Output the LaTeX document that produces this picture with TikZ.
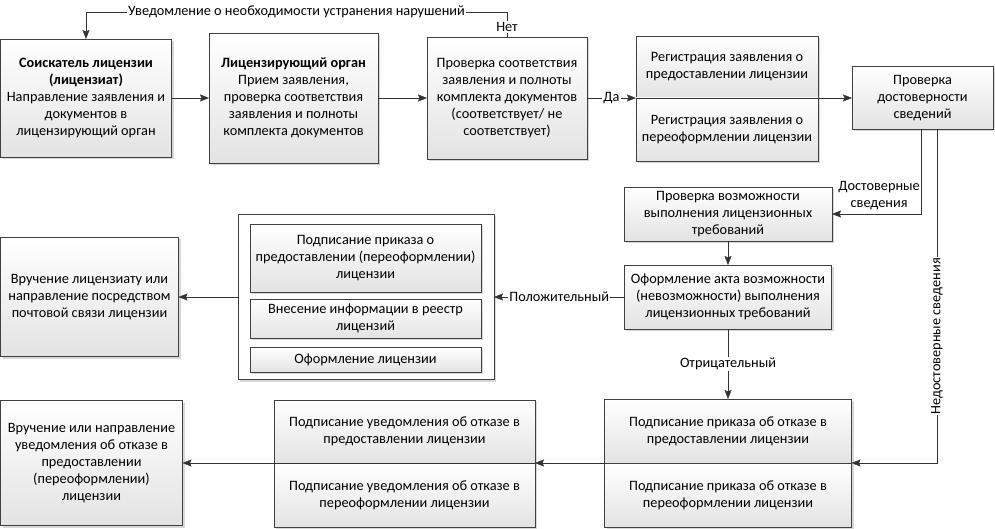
\documentclass[tikz,border=0pt]{standalone}
\usepackage{fontspec}
\setmainfont{Carlito}
\usetikzlibrary{positioning,arrows.meta,shadows}

\begin{document}
\begin{tikzpicture}[x=1pt, y=-1pt,
  txt/.style={font=\fontsize{14.3}{17}\selectfont},
  box/.style={txt, draw=black!75, rectangle, align=center, inner sep=2pt, outer sep=0pt,
    top color=white, bottom color=black!11,
    drop shadow={shadow xshift=2pt, shadow yshift=-2pt, fill=black!30, opacity=0.5}},
  frame/.style={draw=black!75, rectangle, fill=white, outer sep=0pt,
    drop shadow={shadow xshift=2pt, shadow yshift=-2pt, fill=black!30, opacity=0.5}},
  lbl/.style={txt, fill=white, inner sep=1pt},
  arr/.style={draw=black!80, -{Stealth[length=9pt, width=7pt, inset=1.5pt]}}]

  \useasboundingbox (0,0) rectangle (995,529);

  \node [box, minimum width=171pt, minimum height=118pt] (A) at (86,98)
    {\textbf{Соискатель лицензии}\\\textbf{(лицензиат)}\\Направление заявления и\\документов в\\лицензирующий орган};
  \node [box, minimum width=169pt, minimum height=130pt] (B) at (293.5,98)
    {\textbf{Лицензирующий орган}\\Прием заявления,\\проверка соответствия\\заявления и полноты\\комплекта документов};
  \node [box, minimum width=160pt, minimum height=122pt] (C) at (507,98)
    {Проверка соответствия\\заявления и полноты\\комплекта документов\\(соответствует/ не\\соответствует)};
  \node [box, minimum width=182pt, minimum height=62pt] (D1) at (727,67)
    {Регистрация заявления о\\предоставлении лицензии};
  \node [box, minimum width=182pt, minimum height=63pt] (D2) at (727,129.5)
    {Регистрация заявления о\\переоформлении лицензии};
  \node [box, minimum width=141pt, minimum height=63pt] (E) at (922.5,98)
    {Проверка\\достоверности\\сведений};

  \node [box, minimum width=208pt, minimum height=54pt] (F) at (728,214)
    {Проверка возможности\\выполнения лицензионных\\требований};
  \node [box, minimum width=207pt, minimum height=64pt] (G) at (728,297)
    {Оформление акта возможности\\(невозможности) выполнения\\лицензионных требований};
  \node [box, minimum width=247pt, minimum height=64pt] (H1) at (728,431)
    {Подписание приказа об отказе в\\предоставлении лицензии};
  \node [box, minimum width=247pt, minimum height=64pt] (H2) at (728,495)
    {Подписание приказа об отказе в\\переоформлении лицензии};

  \node [frame, minimum width=256pt, minimum height=165pt] (O) at (366,297) {};
  \node [box, minimum width=231pt, minimum height=68pt] (P1) at (365.5,258)
    {Подписание приказа о\\предоставлении (переоформлении)\\лицензии};
  \node [box, minimum width=231pt, minimum height=39pt] (P2) at (365.5,318.5)
    {Внесение информации в реестр\\лицензий};
  \node [box, minimum width=231pt, minimum height=25pt] (P3) at (365.5,359.5)
    {Оформление лицензии};

  \node [box, minimum width=178pt, minimum height=119pt] (I) at (89.5,297)
    {Вручение лицензиату или\\направление посредством\\почтовой связи лицензии};
  \node [box, minimum width=261pt, minimum height=63pt] (J1) at (404.5,431.5)
    {Подписание уведомления об отказе в\\предоставлении лицензии};
  \node [box, minimum width=261pt, minimum height=64pt] (J2) at (404.5,495)
    {Подписание уведомления об отказе в\\переоформлении лицензии};
  \node [box, minimum width=182pt, minimum height=125pt] (K) at (91.5,463)
    {Вручение или направление\\уведомления об отказе в\\предоставлении\\(переоформлении)\\лицензии};

  \coordinate (top) at (0,12);
  \coordinate (ok) at (921,0);
  \coordinate (bad) at (937,0);

  \draw [arr] (C.north) -- node [lbl, pos=0.4] {Нет} (C.north |- top)
    -- node [lbl] {Уведомление о необходимости устранения нарушений} (A.north |- top) -- (A.north);
  \draw [arr] (A) -- (B);
  \draw [arr] (B) -- (C);
  \draw [arr] (C) -- node [lbl] {Да} (D1.south west);
  \draw [arr] (D1.south west) -- (E);
  \draw [arr] (E.south -| ok) |- (F.east);
  \node [txt, align=center, anchor=south east, inner sep=1pt] (okl) at (921,211) {Достоверные\\сведения};
  \draw [arr] (E.south -| bad) |- node [lbl, rotate=90, pos=0.31] {Недостоверные сведения} (H1.south east);
  \draw [arr] (F) -- (G);
  \draw [arr] (G) -- node [lbl] {Положительный} (O);
  \draw [arr] (O) -- (I);
  \draw [arr] (G) -- node [lbl] {Отрицательный} (H1);
  \draw [arr] (H1.south west) -- (J1.south east);
  \draw [arr] (J1.south east) -- (K);
\end{tikzpicture}
\end{document}
